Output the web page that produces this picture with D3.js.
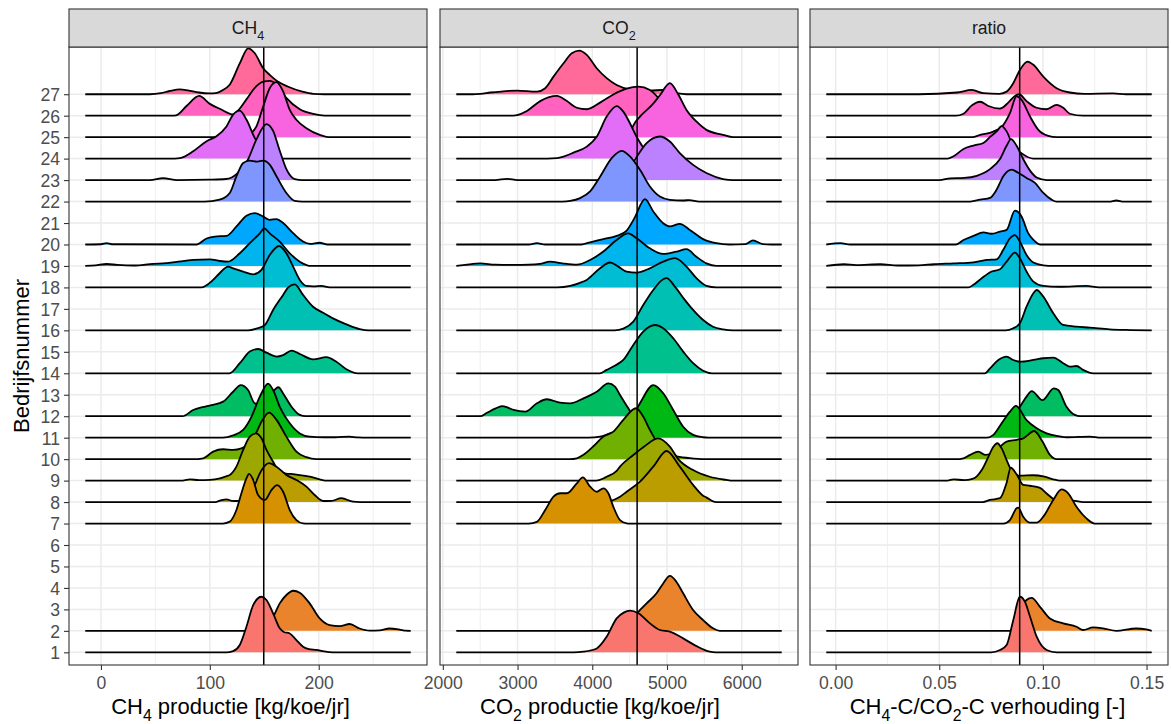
<!DOCTYPE html>
<html><head><meta charset="utf-8">
<script src="https://cdn.jsdelivr.net/npm/d3@7"></script>
<style>body{margin:0;background:#fff}svg{display:block;font-family:"Liberation Sans",Arial,Helvetica,sans-serif}</style>
</head><body><svg id="c" width="1171" height="724"></svg>
<script>
// ---------------- data ----------------
const farms = [1,2,7,8,9,10,11,12,14,16,18,19,20,22,23,24,25,26,27];
const yLevels = d3.range(1, 28);
const stripLabels = [[{t:"CH"},{t:"4",sub:true}], [{t:"CO"},{t:"2",sub:true}], [{t:"ratio"}]];
const xTitles = [
  [{t:"CH"},{t:"4",sub:true},{t:" productie [kg/koe/jr]"}],
  [{t:"CO"},{t:"2",sub:true},{t:" productie [kg/koe/jr]"}],
  [{t:"CH"},{t:"4",sub:true},{t:"-C/CO"},{t:"2",sub:true},{t:"-C verhouding [-]"}]
];
const yTitle = "Bedrijfsnummer";
const ch4Ticks = [0,100,200];
const co2Ticks = [2000,3000,4000,5000,6000];
const ratioTicks = [0,0.05,0.10,0.15];
const meanLines = [149.5, 4600, 0.0888];
const dataRanges = [[-14.4,284.5],[2180,6535],[-0.0045,0.1525]];

// ridge profiles [x, height in row units], one per farm (order of `farms`)
const ch4Ridges = [
 [[115,0],[121.4,0.06],[127.5,0.34],[133.6,1.19],[139.8,2.2],[147.4,2.59],[152,2.44],[158.1,1.82],[164.2,1.12],[168,0.95],[173.4,0.88],[179.5,0.57],[185.6,0.26],[191,0.15],[197.9,0.11],[205,0.04],[213,0]],
 [[140,0],[145,0.1],[150,0.3],[154,0.45],[158.1,0.66],[164.2,1.28],[170.3,1.67],[176.5,1.87],[182.6,1.78],[191.7,1.28],[200.9,0.58],[210,0.27],[219.3,0.22],[228.4,0.32],[237.6,0.11],[246.8,0.01],[256,0.02],[265,0.11],[274.3,0.06],[280,0.01]],
 [[112,0],[118.3,0.09],[124.4,0.63],[129,1.41],[133.6,2.1],[136,2.31],[139.8,2.03],[144.3,1.33],[150.5,1.1],[156.6,1.56],[161.8,1.79],[167.3,1.48],[173.4,0.63],[179.5,0.16],[185.6,0.01],[190,0]],
 [[105,0],[110,0.08],[115.3,0.13],[120,0.06],[125,0.05],[133,0.3],[141.3,0.8],[145.9,1.34],[154.4,1.81],[161.2,1.65],[170.3,1.26],[179.5,1.03],[188.7,0.72],[196.3,0.33],[204,0.05],[212,0.06],[220.8,0.18],[231.5,0.02],[238,0]],
 [[75,0],[81.7,0.06],[90,0.02],[100,0.03],[109.2,0.1],[115,0.2],[118.3,0.26],[124.4,0.65],[130.6,1.43],[136.7,2.05],[142.2,2.2],[147.4,1.97],[152,1.43],[158.1,0.88],[164.2,0.41],[170,0.33],[176.4,0.3],[182.6,0.26],[191.7,0.18],[200.9,0.06],[206,0]],
 [[85,0],[93.9,0.04],[103,0.35],[112.2,0.46],[121.4,0.43],[129,0.5],[135,0.7],[142.2,1.2],[148,1.8],[154.4,2.17],[161.2,1.83],[170.3,1.05],[179.5,0.35],[188.7,0.09],[197.9,0]],
 [[112,0],[121.4,0.11],[130.6,0.36],[138.3,0.98],[145.9,1.91],[153.5,2.52],[158.1,2.22],[164.2,1.44],[173.4,0.67],[182.6,0.2],[191.7,0.05],[205,0.02],[215,0.02],[228,0.05],[236,0.01],[245,0]],
 [[75,0],[84.7,0.29],[93,0.42],[101.5,0.52],[112.2,0.68],[121.4,1.14],[128.4,1.45],[135.1,1.22],[141.3,0.6],[148,0.55],[155,0.95],[163,1.35],[167.3,1.06],[175,0.44],[182.6,0.06],[188,0]],
 [[118,0],[127.5,0.47],[136.7,1.01],[144.3,1.13],[152,0.96],[161.2,0.78],[167.3,0.85],[175,1.06],[182.6,0.9],[194.8,0.65],[207,0.75],[216.2,0.54],[225.4,0.19],[236,0]],
 [[135,0],[142.8,0.08],[150.5,0.25],[158.1,0.95],[167.3,1.65],[172,2.0],[178,2.14],[185.6,1.65],[194.8,1.1],[204,0.82],[213.1,0.56],[225.4,0.28],[237.6,0.06],[246,0]],
 [[92,0],[103,0.35],[109,0.66],[116.8,0.97],[121.4,0.89],[130.6,0.74],[139.8,0.61],[147.4,0.82],[155,1.51],[163.6,1.93],[170.3,1.59],[176.5,0.97],[182.6,0.35],[188.7,0.07],[195,0.05],[202.5,0.07],[210,0]],
 [[-14.4,0],[-5,0.03],[5.2,0.09],[15,0.05],[30,0.02],[48,0.1],[60,0.13],[69.4,0.19],[84.7,0.28],[100,0.31],[109.2,0.23],[116.8,0.2],[127.5,0.59],[136.7,1.06],[145.9,1.52],[150,1.75],[155,1.52],[164.2,1.13],[173.4,0.59],[182.6,0.2],[193,0]],
 [[-14.4,0],[0,0.01],[5.2,0.06],[10,0.01],[87.8,0],[97,0.28],[104.6,0.37],[115.3,0.4],[124.5,0.84],[133.6,1.34],[141.3,1.46],[149,1.3],[155,1.15],[161.2,1.18],[167.3,1.0],[176.5,0.53],[185.6,0.14],[192,0.03],[200.9,0.08],[208,0]],
 [[95,0],[109,0.09],[118.3,0.4],[124.5,1.18],[130.6,1.8],[136.7,1.91],[142.8,1.86],[149,1.91],[155,1.72],[161.2,1.18],[170.3,0.4],[178,0.03],[185,0]],
 [[45,0],[57,0.09],[70,0],[100,0.02],[115,0.05],[125,0.3],[135.2,0.98],[142.8,1.9],[152,2.61],[158,2.3],[164.2,1.37],[170.3,0.51],[178,0.05],[185,0]],
 [[68,0],[72.5,0.02],[84.7,0.34],[97,0.81],[106.1,1.04],[115.3,1.5],[121.4,2.05],[127.5,2.24],[133.6,1.82],[141.3,0.96],[150,0.4],[158,0.1],[167,0]],
 [[130,0],[138.2,0.19],[142.8,0.5],[149,1.43],[155,2.28],[161.2,2.56],[167.3,2.13],[173.4,1.27],[179.5,0.81],[188.7,0.42],[200.9,0.11],[208.6,0]],
 [[65,0],[69,0.02],[78.6,0.45],[90.2,0.92],[100,0.55],[110,0.3],[121.4,0.06],[127,0.3],[133.6,0.76],[142.8,1.38],[150,1.6],[155,1.62],[161.2,1.46],[170,0.84],[182.6,0.3],[195,0.08],[205.5,0]],
 [[45,0],[55,0.05],[63,0.15],[72.5,0.23],[80,0.18],[90,0.08],[100,0.04],[105,0.05],[112,0.2],[118,0.43],[127.5,1.44],[135.2,2.14],[141.3,1.91],[149,1.21],[155,0.9],[162,0.6],[172,0.35],[185,0.12],[195,0.02],[205,0]]
];
const co2Ridges = [
 [[3750,0],[3882,0.03],[4059,0.18],[4193,0.73],[4326,1.58],[4420,1.85],[4504,1.94],[4616,1.82],[4771,1.35],[4905,1.04],[5038,0.96],[5216,0.65],[5394,0.29],[5572,0.03],[5650,0]],
 [[4250,0],[4350,0.08],[4450,0.3],[4550,0.65],[4616,0.89],[4727,1.28],[4860,1.75],[4949,2.21],[5038,2.56],[5127,2.28],[5216,1.75],[5349,0.97],[5483,0.5],[5616,0.12],[5705,0]],
 [[3150,0],[3258,0.08],[3370,0.63],[3481,1.25],[3570,1.41],[3659,1.41],[3793,1.87],[3873,2.15],[3971,1.72],[4059,1.48],[4148,1.64],[4215,1.41],[4282,0.78],[4371,0.16],[4460,0.01],[4500,0]],
 [[4150,0],[4237,0.05],[4300,0.12],[4371,0.25],[4460,0.48],[4638,0.95],[4816,1.65],[4994,2.38],[5171,1.65],[5349,0.8],[5483,0.3],[5527,0.22],[5616,0.03],[5660,0]],
 [[4050,0],[4148,0.1],[4193,0.18],[4326,0.45],[4371,0.65],[4549,1.19],[4700,1.6],[4882,1.97],[5038,1.58],[5150,1.0],[5349,0.49],[5572,0.18],[5794,0.03],[5850,0]],
 [[3700,0],[3793,0.04],[3882,0.2],[4015,0.6],[4149,1.05],[4282,1.28],[4415,1.83],[4585,2.37],[4682,1.98],[4771,1.36],[4860,0.82],[4949,0.4],[5100,0.15],[5300,0.05],[5500,0]],
 [[3950,0],[4104,0.05],[4237,0.2],[4400,0.35],[4500,0.7],[4638,1.6],[4816,2.45],[4949,2.07],[5083,1.29],[5216,0.51],[5349,0.13],[5483,0.02],[5550,0]],
 [[2500,0],[2591,0.16],[2700,0.35],[2792,0.47],[2870,0.4],[2948,0.29],[3103,0.21],[3259,0.6],[3392,0.79],[3570,0.63],[3704,0.6],[3882,0.83],[4059,1.14],[4215,1.53],[4304,1.38],[4371,0.99],[4482,0.37],[4538,0.08],[4620,0]],
 [[4100,0],[4193,0.16],[4300,0.35],[4415,0.62],[4549,1.32],[4682,1.94],[4838,2.25],[4949,2.1],[5083,1.63],[5216,1.01],[5349,0.47],[5483,0.12],[5600,0]],
 [[4300,0],[4415,0.08],[4549,0.41],[4682,1.18],[4816,1.88],[4949,2.38],[4993,2.43],[5105,2.04],[5238,1.42],[5349,0.95],[5483,0.48],[5616,0.17],[5749,0.05],[5880,0]],
 [[3530,0],[3704,0.07],[3826,0.2],[3926,0.35],[4104,0.89],[4237,1.16],[4348,0.97],[4460,0.74],[4593,0.69],[4771,0.89],[4949,1.2],[5105,1.36],[5261,0.97],[5393,0.43],[5527,0.07],[5660,0]],
 [[2180,0],[2300,0.05],[2503,0.12],[2700,0.06],[2950,0.05],[3150,0.06],[3300,0.1],[3437,0.2],[3600,0.12],[3793,0.06],[3971,0.28],[4148,0.67],[4326,1.21],[4482,1.52],[4593,1.29],[4771,0.82],[4949,0.56],[5127,0.67],[5261,0.78],[5393,0.43],[5527,0.12],[5660,0]],
 [[3150,0],[3259,0.06],[3370,0],[3850,0],[3971,0.1],[4148,0.25],[4326,0.4],[4460,0.65],[4560,1.2],[4705,2.11],[4816,1.54],[4949,0.99],[5038,0.84],[5171,0.96],[5305,0.68],[5483,0.25],[5660,0.06],[5838,0],[6050,0.02],[6150,0.19],[6280,0.02],[6400,0]],
 [[3600,0],[3704,0.03],[3837,0.16],[3971,0.47],[4104,1.16],[4260,2.02],[4393,2.36],[4504,2.1],[4638,1.48],[4771,0.7],[4905,0.23],[5038,0.08],[5216,0.05],[5300,0.07],[5430,0]],
 [[2700,0],[2858,0.06],[3000,0],[4300,0],[4350,0.05],[4450,0.3],[4571,0.95],[4727,1.72],[4905,2.03],[5038,1.8],[5171,1.26],[5349,0.71],[5527,0.33],[5749,0.05],[5883,0]],
 [[3400,0],[3526,0.02],[3615,0.09],[3749,0.28],[3926,0.56],[4059,1.02],[4193,1.96],[4326,2.45],[4415,2.19],[4504,1.65],[4593,1.02],[4727,0.33],[4860,0.09],[5000,0]],
 [[4450,0],[4500,0.15],[4550,0.55],[4650,1.0],[4800,1.5],[4905,1.95],[5038,2.52],[5149,2.0],[5261,1.27],[5393,0.73],[5527,0.34],[5749,0.11],[5883,0]],
 [[2900,0],[2992,0.03],[3125,0.22],[3303,0.68],[3526,0.92],[3660,0.68],[3793,0.37],[3926,0.3],[4104,0.61],[4282,0.99],[4460,1.26],[4616,1.35],[4771,1.2],[4949,0.61],[5127,0.22],[5305,0.03],[5393,0]],
 [[2400,0],[2502,0.02],[2636,0.08],[2992,0.17],[3259,0.12],[3370,0.28],[3481,0.82],[3615,1.44],[3726,1.91],[3828,2.03],[3926,1.83],[4059,1.21],[4193,0.75],[4326,0.43],[4504,0.23],[4638,0.2],[4771,0.17],[4949,0.2],[5127,0.05],[5261,0]]
];
const ratioRidges = [
 [[0.075,0],[0.0793,0.11],[0.0825,0.34],[0.0857,1.5],[0.0889,2.59],[0.0913,2.36],[0.0938,1.66],[0.097,0.73],[0.1018,0.11],[0.1066,0]],
 [[0.084,0],[0.0865,0.3],[0.0895,1.0],[0.0921,1.44],[0.0946,1.54],[0.0986,1.12],[0.1034,0.58],[0.1098,0.35],[0.1162,0.19],[0.1194,0.04],[0.1242,0.16],[0.129,0.12],[0.1354,0.0],[0.145,0.11],[0.1498,0.07],[0.1525,0]],
 [[0.081,0],[0.0841,0.16],[0.0873,0.71],[0.0881,0.74],[0.0905,0.32],[0.0938,0.04],[0.097,0.04],[0.1002,0.32],[0.105,1.1],[0.109,1.59],[0.1122,1.41],[0.1162,0.78],[0.121,0.24],[0.125,0]],
 [[0.071,0],[0.0745,0.1],[0.0793,0.18],[0.0825,0.9],[0.0845,1.6],[0.0873,1.3],[0.0905,0.8],[0.0938,0.76],[0.0986,0.66],[0.1018,0.4],[0.105,0.15],[0.1082,0.05],[0.1146,0.07],[0.1194,0]],
 [[0.054,0],[0.0569,0.06],[0.062,0.02],[0.066,0.08],[0.0681,0.2],[0.0705,0.49],[0.0737,1.11],[0.0761,1.58],[0.078,1.74],[0.0801,1.5],[0.0825,0.96],[0.0857,0.34],[0.0889,0.23],[0.0954,0.25],[0.1002,0.2],[0.105,0.06],[0.1082,0]],
 [[0.058,0],[0.0617,0.04],[0.0649,0.2],[0.0689,0.35],[0.0721,0.2],[0.075,0.25],[0.079,0.55],[0.0825,0.82],[0.0873,0.9],[0.0905,0.97],[0.0958,1.31],[0.0998,0.82],[0.1034,0.2],[0.1066,0]],
 [[0.073,0],[0.0761,0.13],[0.0801,0.67],[0.0841,1.21],[0.087,1.48],[0.0921,0.82],[0.097,0.44],[0.1018,0.2],[0.1066,0.08],[0.1114,0.02],[0.1226,0.05],[0.128,0]],
 [[0.083,0],[0.0865,0.15],[0.0889,0.44],[0.0921,0.91],[0.0946,1.17],[0.0998,0.75],[0.1053,1.3],[0.1074,1.22],[0.1114,0.44],[0.1154,0.06],[0.118,0]],
 [[0.072,0],[0.0745,0.23],[0.0785,0.62],[0.0825,0.78],[0.0857,0.62],[0.0889,0.54],[0.0954,0.62],[0.1002,0.7],[0.105,0.73],[0.1098,0.47],[0.113,0.31],[0.1162,0.34],[0.1194,0.16],[0.1242,0]],
 [[0.082,0],[0.0857,0.1],[0.0889,0.33],[0.0921,1.1],[0.0954,1.73],[0.097,1.88],[0.1002,1.57],[0.105,0.8],[0.1098,0.25],[0.1162,0.17],[0.1226,0.13],[0.1322,0.05],[0.14,0.02],[0.1525,0]],
 [[0.064,0],[0.0665,0.12],[0.0705,0.43],[0.0753,0.74],[0.0793,0.85],[0.0825,1.2],[0.0865,1.62],[0.0889,1.36],[0.0921,0.74],[0.0954,0.27],[0.1002,0.07],[0.108,0.03],[0.121,0.07],[0.127,0]],
 [[-0.0045,0],[0.004,0.08],[0.01,0.04],[0.0216,0.08],[0.03,0.02],[0.04,0.03],[0.0473,0.08],[0.0569,0.12],[0.0665,0.17],[0.0729,0.28],[0.0777,0.31],[0.0809,0.75],[0.0841,1.29],[0.0865,1.44],[0.0889,1.13],[0.0921,0.51],[0.0954,0.16],[0.1002,0.03],[0.105,0]],
 [[-0.0045,0],[0.0024,0.06],[0.007,0],[0.058,0],[0.0617,0.21],[0.0665,0.4],[0.0713,0.56],[0.0753,0.5],[0.0793,0.6],[0.0825,0.68],[0.0865,1.58],[0.0897,1.3],[0.0929,0.53],[0.0954,0.22],[0.0986,0]],
 [[0.065,0],[0.0697,0.09],[0.0745,0.17],[0.0777,0.56],[0.0809,1.18],[0.0849,1.49],[0.0881,1.34],[0.0921,1.1],[0.0962,0.87],[0.1002,0.4],[0.1042,0.09],[0.1066,0],[0.132,0],[0.1354,0.05],[0.139,0]],
 [[0.05,0],[0.0553,0.08],[0.062,0.1],[0.0681,0.2],[0.0745,0.51],[0.0793,0.98],[0.0825,1.6],[0.0846,1.91],[0.0873,1.6],[0.0905,0.98],[0.0938,0.44],[0.097,0.12],[0.1018,0]],
 [[0.054,0],[0.0569,0.11],[0.0617,0.45],[0.0665,0.61],[0.0713,0.73],[0.0745,1.01],[0.0777,1.27],[0.0801,1.51],[0.0825,1.27],[0.0857,0.57],[0.0897,0.25],[0.0953,0]],
 [[0.066,0],[0.0697,0.11],[0.0761,0.26],[0.0809,0.57],[0.0841,1.12],[0.0873,1.9],[0.0897,1.74],[0.0938,0.96],[0.0978,0.34],[0.1026,0.06],[0.1066,0]],
 [[0.058,0],[0.0617,0.09],[0.0657,0.48],[0.0697,0.65],[0.0737,0.45],[0.0793,0.33],[0.0833,0.61],[0.0865,0.92],[0.0885,1.0],[0.0921,0.68],[0.097,0.37],[0.1018,0.3],[0.1066,0.5],[0.1098,0.37],[0.113,0.09],[0.1194,0]],
 [[0.04,0],[0.0585,0.08],[0.0657,0.2],[0.0713,0.05],[0.079,0.02],[0.0825,0.12],[0.0857,0.51],[0.0889,1.13],[0.0926,1.52],[0.0954,1.37],[0.1002,0.82],[0.1066,0.28],[0.113,0.08],[0.12,0.02],[0.1338,0.04],[0.14,0]]
];

// ---------------- layout ----------------
const W = 1171, H = 724;
const panelX = [69, 440, 810], panelW = 358;
const panelTop = 47, panelBottom = 665;
const stripTop = 9;
const fsTick = 17.6, fsTitle = 22;
const grey20 = "#333333";

// ggplot2 hue palette (polarLUV -> sRGB)
function hclHex(h, c, l) {
  const WY = 100, Wu = 0.1978398, Wv = 0.4683363;
  const hr = h * Math.PI / 180, U = c * Math.cos(hr), V = c * Math.sin(hr);
  const Y = WY * (l > 7.999592 ? Math.pow((l + 16) / 116, 3) : l / 903.3);
  const u = U / (13 * l) + Wu, v = V / (13 * l) + Wv;
  const X = 9 * Y * u / (4 * v), Z = -X / 3 - 5 * Y + 3 * Y / v;
  const gt = t => t > 0.00304 ? 1.055 * Math.pow(t, 1 / 2.4) - 0.055 : 12.92 * t;
  const cl = t => Math.round(255 * Math.max(0, Math.min(1, t)));
  const r = gt((3.240479 * X - 1.537150 * Y - 0.498535 * Z) / WY);
  const g = gt((-0.969256 * X + 1.875992 * Y + 0.041556 * Z) / WY);
  const b = gt((0.055648 * X - 0.204043 * Y + 1.057311 * Z) / WY);
  return d3.rgb(cl(r), cl(g), cl(b)).formatHex();
}
const nG = farms.length;
const color = d3.scaleOrdinal().domain(farms)
  .range(farms.map((f, i) => hclHex(15 + i * 360 / nG, 100, 65)));

const svg = d3.select("#c");
svg.append("rect").attr("width", W).attr("height", H).attr("fill", "#fff");
const defs = svg.append("defs");

const y = d3.scaleLinear().domain([0.41, 29.2]).range([panelBottom, panelTop]);

function rich(textSel, parts, fs) {
  let sub = false;
  parts.forEach(p => {
    const t = textSel.append("tspan").text(p.t);
    if (p.sub) { t.attr("font-size", fs * 0.72).attr("dy", fs * 0.3); sub = true; }
    else if (sub) { t.attr("dy", -fs * 0.3); sub = false; }
  });
}

const ridgeSets = [ch4Ridges, co2Ridges, ratioRidges];
const tickSets = [ch4Ticks, co2Ticks, ratioTicks];
const tickFmt = [d3.format("d"), d3.format("d"), d3.format(".2f")];

ridgeSets.forEach((ridges, p) => {
  const x0 = panelX[p], x1 = x0 + panelW;
  const [rmin, rmax] = dataRanges[p];
  const pad = (rmax - rmin) * 0.05;
  const x = d3.scaleLinear().domain([rmin - pad, rmax + pad]).range([x0, x1]);
  const ticks = tickSets[p];
  const step = ticks[1] - ticks[0];
  const dom = x.domain();
  const minor = d3.range(Math.ceil((dom[0] - step / 2) / step) * step + step / 2, dom[1], step)
    .filter(v => v > dom[0] && v < dom[1]);

  const g = svg.append("g");
  const cid = "clip" + p;
  defs.append("clipPath").attr("id", cid).append("rect")
    .attr("x", x0).attr("y", panelTop).attr("width", panelW).attr("height", panelBottom - panelTop);

  // grid
  g.selectAll(".mn").data(minor).join("line")
    .attr("x1", d => x(d)).attr("x2", d => x(d)).attr("y1", panelTop).attr("y2", panelBottom)
    .attr("stroke", "#EBEBEB").attr("stroke-width", 0.8);
  g.selectAll(".mjx").data(ticks.filter(v => v >= dom[0] && v <= dom[1])).join("line")
    .attr("x1", d => x(d)).attr("x2", d => x(d)).attr("y1", panelTop).attr("y2", panelBottom)
    .attr("stroke", "#EBEBEB").attr("stroke-width", 1.5);
  g.selectAll(".mjy").data(yLevels).join("line")
    .attr("x1", x0).attr("x2", x1).attr("y1", d => y(d)).attr("y2", d => y(d))
    .attr("stroke", "#EBEBEB").attr("stroke-width", 1.5);

  // ridges, top row first so lower rows overlay
  const rg = g.append("g").attr("clip-path", `url(#${cid})`);
  const order = d3.range(farms.length).reverse();
  order.forEach(i => {
    const lvl = farms[i];
    let pts = ridges[i].slice();
    if (pts[0][0] > rmin) pts.unshift([rmin, 0]);
    if (pts[pts.length - 1][0] < rmax) pts.push([rmax, 0]);
    const area = d3.area().x(d => x(d[0])).y0(y(lvl)).y1(d => y(lvl + d[1])).curve(d3.curveMonotoneX);
    const line = d3.line().x(d => x(d[0])).y(d => y(lvl + d[1])).curve(d3.curveMonotoneX);
    const filled = pts.filter(d => true);
    rg.append("path").datum(filled).attr("d", area).attr("fill", color(lvl)).attr("stroke", "none");
    rg.append("path").datum(pts).attr("d", line).attr("fill", "none")
      .attr("stroke", "#000").attr("stroke-width", 1.8).attr("stroke-linejoin", "round");
  });

  // mean line
  rg.append("line").attr("x1", x(meanLines[p])).attr("x2", x(meanLines[p]))
    .attr("y1", panelTop).attr("y2", panelBottom).attr("stroke", "#000").attr("stroke-width", 1.5);

  // border
  g.append("rect").attr("x", x0).attr("y", panelTop).attr("width", panelW).attr("height", panelBottom - panelTop)
    .attr("fill", "none").attr("stroke", grey20).attr("stroke-width", 1.1);

  // strip
  g.append("rect").attr("x", x0).attr("y", stripTop).attr("width", panelW).attr("height", panelTop - stripTop)
    .attr("fill", "#D9D9D9").attr("stroke", grey20).attr("stroke-width", 1.1);
  const st = g.append("text").attr("x", x0 + panelW / 2).attr("y", 34.3).attr("text-anchor", "middle")
    .attr("font-size", fsTick).attr("fill", "#1A1A1A");
  rich(st, stripLabels[p], fsTick);

  // x axis
  const ax = d3.axisBottom(x).tickValues(ticks).tickFormat(tickFmt[p]).tickSizeOuter(0).tickSizeInner(5).tickPadding(5);
  const axg = g.append("g").attr("transform", `translate(0,${panelBottom})`).call(ax);
  axg.select(".domain").remove();
  axg.selectAll("line").attr("stroke", grey20).attr("stroke-width", 1.1);
  axg.selectAll("text").attr("font-size", fsTick).attr("fill", "#4D4D4D")
    .attr("font-family", '"Liberation Sans",Arial,sans-serif').attr("dy", null).attr("y", 0)
    .attr("transform", "translate(0,23.5)");

  // x title
  const titleCx = [230.5, 600, 987.5][p];
  const xt = svg.append("text").attr("x", titleCx).attr("y", 714).attr("text-anchor", "middle")
    .attr("font-size", fsTitle).attr("fill", "#000");
  rich(xt, xTitles[p], fsTitle);

  // y axis on first panel
  if (p === 0) {
    const ay = d3.axisLeft(y).tickValues(yLevels).tickFormat(d3.format("d")).tickSizeOuter(0).tickSizeInner(5).tickPadding(4);
    const ayg = svg.append("g").attr("transform", `translate(${x0},0)`).call(ay);
    ayg.select(".domain").remove();
    ayg.selectAll("line").attr("stroke", grey20).attr("stroke-width", 1.1);
    ayg.selectAll("text").attr("font-size", fsTick).attr("fill", "#4D4D4D")
      .attr("font-family", '"Liberation Sans",Arial,sans-serif').attr("dy", "0.36em");
  }
});

svg.append("text").attr("transform", `translate(28.5,${(panelTop + panelBottom) / 2}) rotate(-90)`)
  .attr("text-anchor", "middle").attr("font-size", fsTitle).attr("fill", "#000").text(yTitle);
</script>
</body></html>
